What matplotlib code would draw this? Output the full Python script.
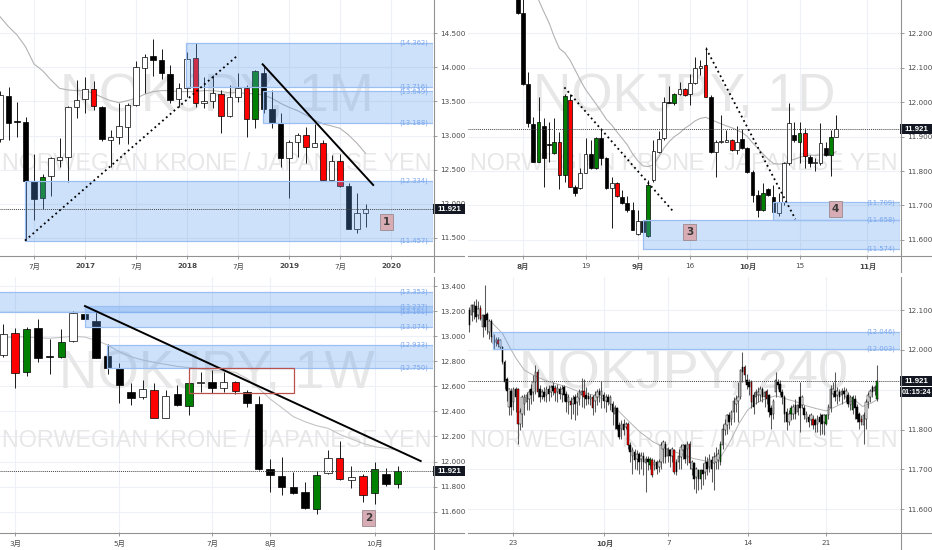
import matplotlib
matplotlib.use("Agg")
import matplotlib.pyplot as plt
from matplotlib.patches import Rectangle
from matplotlib.lines import Line2D
import matplotlib.transforms as mtransforms

plt.rcParams['font.family'] = ['DejaVu Sans', 'Noto Sans CJK JP']

LAST = 11.921
TIMER = "01:15:24"
SUBTITLE = "NORWEGIAN KRONE / JAPANESE YEN"

# ---------------- monthly (top-left) ----------------
M_X = list(range(-10, 34))
M_KIND = "wkkkkgwwww" "wrkwwwwwkk" "kwwrwwrwwr" "gkkkwwrwrw" "rkww"
M_OPEN = [12.944,13.585,13.213,13.199,12.333,12.078,12.406,12.641,12.680,13.414,
          13.531,13.678,13.424,12.934,12.983,13.130,13.448,13.986,14.167,14.109,
          13.903,13.531,13.693,14.133,13.473,13.512,13.610,13.287,13.571,13.703,
          13.238,13.923,13.385,13.189,12.675,12.910,13.008,12.827,12.895,12.347,
          12.631,12.259,11.623,11.868]
M_HIGH = [13.650,13.707,13.497,13.277,12.729,12.436,12.690,12.969,13.433,13.815,
          13.854,13.805,13.433,13.081,13.473,13.473,14.099,14.197,14.412,14.265,
          14.035,13.766,14.231,14.363,13.854,13.888,13.668,13.742,13.913,13.742,
          13.962,14.035,13.668,13.326,12.934,13.032,13.130,13.169,12.934,12.714,
          12.729,12.308,12.161,11.995]
M_LOW = [12.900,12.934,12.974,11.457,11.760,11.917,12.113,12.543,12.323,13.252,
         13.326,13.375,12.925,12.543,12.876,12.876,13.433,13.619,13.874,13.825,
         13.473,13.414,13.571,13.424,13.399,13.399,13.042,13.277,13.497,12.983,
         13.106,13.326,13.106,12.533,12.078,12.690,12.592,12.827,12.347,12.347,
         12.250,11.633,11.574,11.662]
M_CLOSE = [13.595,13.189,13.200,12.337,12.073,12.397,12.665,12.680,13.414,13.522,
           13.678,13.433,12.944,12.983,13.140,13.448,14.011,14.148,14.109,13.913,
           13.522,13.703,14.118,13.473,13.512,13.619,13.287,13.571,13.703,13.238,
           13.947,13.385,13.179,12.675,12.910,13.008,12.837,12.895,12.347,12.631,
           12.259,11.633,11.868,11.921]
M_MA = [14.745,14.598,14.476,14.304,14.050,13.952,13.815,13.693,13.668,13.659,
        13.659,13.619,13.561,13.512,13.482,13.512,13.546,13.605,13.644,13.659,
        13.659,13.644,13.644,13.644,13.659,13.659,13.644,13.629,13.629,13.619,
        13.610,13.595,13.546,13.473,13.414,13.365,13.301,13.228,13.169,13.140,
        13.106,13.008,12.886,12.739]
M_YTICKS = [11.5, 12.0, 12.5, 13.0, 13.5, 14.0, 14.5]
M_XTICKS = [-6, 0, 6, 12, 18, 24, 30, 36]
M_XLABELS = ["7月", "2017", "7月", "2018", "7月", "2019", "7月", "2020"]
M_ZONES = [(14.362, 13.716, 11.9), (13.649, 13.188, 20.9), (12.334, 11.457, -7.06)]
M_ZONE_LABELS = [14.362, 13.716, 13.649, 13.188, 12.334, 11.457]
M_DOT_X, M_DOT_Y = [-7.06, 17.8], [11.457, 14.158]
M_TREND_X, M_TREND_Y = [20.9, 33.9], [14.045, 12.274]
M_TAG = ("1", 35.5, 11.73)

# ---------------- daily (top-right) ----------------
D_X = list(range(-1, 61))
D_KIND = "kkkkgkkgrg" "rkwwkgkkwr" "kkkwkgwwwk" "gwrwwwrkww" "wrwkkkkgkk" "wwwkgrkwwk" "gw"
D_OPEN = [12.330,12.260,12.052,11.937,11.827,11.931,11.880,11.851,11.885,11.789,
          12.006,11.753,11.750,11.793,11.850,11.808,11.895,11.837,11.750,11.766,
          11.724,11.708,11.687,11.617,11.656,11.610,11.774,11.856,11.895,12.002,
          11.999,12.024,12.037,12.024,12.055,12.098,12.108,12.016,11.856,11.885,
          11.885,11.890,11.861,11.892,11.866,11.798,11.731,11.687,11.747,11.724,
          11.679,11.711,11.822,11.905,11.885,11.911,11.842,11.824,11.822,11.866,
          11.847,11.898]
D_HIGH = [12.360,12.300,12.089,11.958,12.014,11.953,11.943,11.953,11.914,12.024,
          12.024,11.760,11.808,11.895,11.890,11.898,11.924,11.842,11.784,11.769,
          11.745,11.726,11.711,11.687,11.658,11.774,11.890,11.917,12.016,12.047,
          12.028,12.060,12.040,12.082,12.130,12.124,12.161,12.021,11.890,11.963,
          11.919,11.892,11.931,11.921,11.871,11.803,11.745,11.766,11.750,11.760,
          11.735,11.825,11.997,11.943,11.943,11.924,11.847,11.837,11.940,11.885,
          11.919,11.963]
D_LOW = [12.255,12.050,11.929,11.827,11.827,11.755,11.827,11.850,11.747,11.769,
         11.755,11.726,11.747,11.793,11.805,11.805,11.818,11.747,11.634,11.724,
         11.704,11.682,11.629,11.614,11.574,11.608,11.769,11.851,11.890,11.997,
         11.992,12.021,12.018,11.992,12.053,12.079,12.014,11.853,11.784,11.882,
         11.885,11.859,11.850,11.863,11.795,11.711,11.666,11.685,11.726,11.679,
         11.670,11.700,11.818,11.885,11.822,11.808,11.813,11.801,11.818,11.844,
         11.786,11.898]
D_CLOSE = [12.260,12.052,11.941,11.827,11.943,11.837,11.876,11.885,11.789,12.018,
           11.755,11.735,11.793,11.850,11.808,11.895,11.837,11.750,11.766,11.726,
           11.708,11.687,11.629,11.656,11.624,11.760,11.859,11.892,12.002,11.999,
           12.024,12.037,12.021,12.057,12.098,12.105,12.016,11.856,11.885,11.887,
           11.890,11.861,11.885,11.866,11.798,11.731,11.687,11.737,11.731,11.682,
           11.711,11.822,11.939,11.890,11.911,11.844,11.824,11.826,11.882,11.847,
           11.898,11.921]
D_MA_X = list(range(3, 61))
D_MA = [12.297,12.263,12.231,12.190,12.156,12.144,12.123,12.094,12.064,12.037,
        12.016,11.995,11.973,11.950,11.934,11.914,11.895,11.876,11.850,11.830,
        11.815,11.813,11.818,11.840,11.866,11.885,11.900,11.910,11.924,11.934,
        11.946,11.953,11.956,11.950,11.943,11.937,11.931,11.926,11.919,11.912,
        11.900,11.882,11.866,11.850,11.834,11.822,11.820,11.822,11.830,11.834,
        11.840,11.844,11.846,11.846,11.846,11.848,11.850,11.856]
D_YTICKS = [11.6, 11.7, 11.8, 11.9, 12.0, 12.1, 12.2]
D_XTICKS = [0, 12, 22, 32, 43, 53, 66]
D_XLABELS = ["8月", "19", "9月", "16", "10月", "15", "11月"]
D_ZONES = [(11.658, 11.574, 23.07), (11.709, 11.658, 47.98)]
D_ZONE_LABELS = [11.709, 11.658, 11.574]
D_DOT1_X, D_DOT1_Y = [7.94, 29.0], [12.043, 11.679]
D_DOT2_X, D_DOT2_Y = [35.1, 52.2], [12.156, 11.660]
D_TAGS = [("3", 32.0, 11.622), ("4", 59.9, 11.690)]

# ---------------- weekly (bottom-left) ----------------
W_X = list(range(0, 35))
W_KIND = "wrgkkgwkkk" "kkwrwkgwkw" "rkkkkkkgwr" "wrgkg"
W_OPEN = [12.850,13.022,12.711,13.062,12.844,12.836,12.961,13.174,13.123,12.844,
          12.749,12.552,12.517,12.570,12.344,12.541,12.445,12.624,12.632,12.584,
          12.637,12.557,12.456,11.938,11.887,11.794,11.754,11.621,11.906,12.025,
          11.853,11.887,11.746,11.900,11.818]
W_HIGH = [13.094,13.068,13.076,13.137,12.977,13.057,13.201,13.235,13.190,12.935,
          12.783,12.624,12.650,12.624,12.570,12.610,12.637,12.717,12.730,12.717,
          12.642,12.570,12.525,12.020,12.039,11.919,11.839,11.924,12.092,12.164,
          11.967,11.898,11.993,11.946,11.967]
W_LOW = [12.836,12.589,12.685,12.791,12.695,12.823,12.956,13.129,12.823,12.695,
         12.464,12.451,12.499,12.344,12.344,12.446,12.371,12.552,12.544,12.552,
         12.536,12.437,11.932,11.760,11.733,11.743,11.621,11.579,11.898,11.853,
         11.791,11.674,11.658,11.807,11.786]
W_CLOSE = [13.014,12.703,13.057,12.828,12.836,12.956,13.182,13.134,12.828,12.749,
           12.610,12.504,12.576,12.344,12.525,12.451,12.624,12.637,12.584,12.632,
           12.562,12.464,11.940,11.892,11.799,11.746,11.627,11.892,12.025,11.861,
           11.879,11.733,11.938,11.818,11.921]
W_MA = [12.988,12.996,12.993,12.988,12.983,12.991,12.999,12.993,12.967,12.929,
        12.876,12.836,12.810,12.791,12.775,12.759,12.749,12.738,12.730,12.722,
        12.711,12.663,12.584,12.499,12.430,12.358,12.318,12.286,12.265,12.217,
        12.180,12.145,12.118,12.105,12.092]
W_YTICKS = [11.6, 11.8, 12.0, 12.2, 12.4, 12.6, 12.8, 13.0, 13.2, 13.4]
W_XTICKS = [1, 10, 18, 23, 32]
W_XLABELS = ["3月", "5月", "7月", "8月", "10月"]
W_ZONES = [(13.353, 13.191, -1.0), (13.237, 13.074, 7.04), (12.933, 12.750, 8.97)]
W_ZONE_LABELS = [13.353, 13.237, 13.191, 13.074, 12.933, 12.750]
W_TREND_X, W_TREND_Y = [7.04, 35.98], [13.240, 12.004]
W_BOX = (16.0, 25.06, 12.544, 12.743)
W_TAG = ("2", 31.47, 11.547)

# ---------------- 4 hour (bottom-right) ----------------
H4_X = list(range(0, 186))
H4_KIND = ("kwwkwrwkkw" "kkwrwkkkwk" "wkrwwwwwkw" "wrkwkwkwkr" "wkwkkwrwkw"
           "wwrkkwrwwk" "wkwkwkwkkw" "kwrkwkwkwk" "wkgrwkwwwk" "wkwrkwwwkw"
           "rwkwkgkwkw" "kwwwgwwwkw" "wwwwkrkkrk" "wwwkwrkkww" "kkkkkwgwkw"
           "kwkwkwrkwk" "kwgwwwkwkw" "kwkwgkkkrw" "wwwkwg")
H4_OPEN = [12.099,12.087,12.095,12.110,12.087,12.105,12.057,12.087,12.089,12.045,
           12.072,12.036,12.020,12.026,12.007,12.007,11.970,11.928,11.857,11.898,
           11.869,11.903,11.903,11.815,11.840,11.865,11.869,11.878,11.903,11.894,
           11.919,11.944,11.903,11.884,11.894,11.886,11.903,11.894,11.909,11.904,
           11.894,11.901,11.890,11.907,11.890,11.869,11.873,11.865,11.882,11.869,
           11.878,11.886,11.898,11.886,11.884,11.878,11.882,11.873,11.882,11.898,
           11.884,11.886,11.871,11.882,11.865,11.865,11.840,11.853,11.811,11.802,
           11.815,11.807,11.815,11.761,11.735,11.744,11.727,11.740,11.727,11.735,
           11.715,11.727,11.710,11.723,11.710,11.719,11.706,11.719,11.752,11.765,
           11.735,11.748,11.735,11.748,11.719,11.719,11.731,11.748,11.761,11.752,
           11.765,11.702,11.715,11.681,11.698,11.677,11.698,11.694,11.719,11.706,
           11.723,11.715,11.719,11.723,11.719,11.761,11.798,11.811,11.836,11.827,
           11.844,11.865,11.873,11.882,11.957,11.957,11.924,11.919,11.919,11.886,
           11.882,11.886,11.886,11.903,11.882,11.898,11.886,11.853,11.840,11.894,
           11.919,11.915,11.894,11.882,11.844,11.819,11.840,11.840,11.861,11.844,
           11.882,11.861,11.853,11.827,11.832,11.823,11.827,11.823,11.815,11.832,
           11.836,11.819,11.815,11.836,11.853,11.890,11.898,11.886,11.894,11.886,
           11.898,11.882,11.886,11.861,11.848,11.878,11.857,11.840,11.827,11.811,
           11.827,11.869,11.882,11.907,11.898,11.876]
H4_HIGH = [12.108,12.116,12.124,12.128,12.124,12.112,12.091,12.162,12.095,12.078,
           12.078,12.041,12.032,12.032,12.028,12.011,11.974,11.932,11.904,11.904,
           11.907,11.907,11.904,11.853,11.886,11.890,11.894,11.903,11.915,11.936,
           11.961,11.951,11.911,11.903,11.907,11.909,11.913,11.913,11.919,11.911,
           11.915,11.909,11.911,11.911,11.898,11.890,11.882,11.886,11.890,11.894,
           11.903,11.929,11.928,11.907,11.894,11.890,11.886,11.898,11.901,11.904,
           11.921,11.894,11.890,11.890,11.886,11.873,11.861,11.857,11.819,11.823,
           11.827,11.819,11.819,11.769,11.756,11.752,11.748,11.744,11.744,11.744,
           11.735,11.735,11.731,11.729,11.727,11.723,11.727,11.769,11.773,11.771,
           11.756,11.752,11.756,11.752,11.727,11.752,11.765,11.765,11.765,11.771,
           11.771,11.723,11.719,11.706,11.702,11.702,11.715,11.735,11.731,11.740,
           11.735,11.744,11.756,11.752,11.771,11.815,11.827,11.840,11.844,11.848,
           11.882,11.886,11.919,11.953,11.995,11.961,11.940,11.928,11.924,11.894,
           11.903,11.907,11.909,11.907,11.898,11.903,11.890,11.861,11.878,11.944,
           11.928,11.924,11.903,11.886,11.853,11.848,11.861,11.865,11.878,11.865,
           11.919,11.886,11.861,11.846,11.840,11.842,11.836,11.829,11.836,11.842,
           11.840,11.840,11.840,11.865,11.911,11.919,11.944,11.907,11.903,11.904,
           11.907,11.904,11.894,11.888,11.886,11.886,11.865,11.844,11.837,11.844,
           11.878,11.894,11.903,11.911,11.911,11.961]
H4_LOW = [12.045,12.072,12.078,12.070,12.078,12.074,12.032,12.049,12.041,12.028,
          12.021,12.003,12.011,12.007,12.003,11.965,11.903,11.873,11.836,11.836,
          11.848,11.844,11.765,11.798,11.807,11.836,11.848,11.848,11.865,11.871,
          11.890,11.882,11.869,11.878,11.871,11.869,11.873,11.882,11.886,11.873,
          11.869,11.878,11.869,11.873,11.844,11.840,11.827,11.840,11.823,11.836,
          11.861,11.857,11.853,11.861,11.865,11.861,11.836,11.844,11.861,11.869,
          11.854,11.853,11.844,11.861,11.848,11.811,11.802,11.798,11.777,11.777,
          11.786,11.802,11.752,11.719,11.689,11.702,11.698,11.689,11.702,11.685,
          11.644,11.698,11.702,11.681,11.698,11.689,11.694,11.702,11.715,11.715,
          11.719,11.706,11.719,11.689,11.685,11.702,11.702,11.727,11.715,11.710,
          11.702,11.685,11.652,11.640,11.648,11.652,11.660,11.677,11.685,11.694,
          11.669,11.648,11.702,11.702,11.712,11.752,11.786,11.790,11.802,11.811,
          11.819,11.844,11.819,11.878,11.919,11.919,11.903,11.886,11.853,11.840,
          11.865,11.869,11.873,11.869,11.857,11.865,11.832,11.802,11.827,11.882,
          11.903,11.886,11.865,11.819,11.798,11.811,11.823,11.827,11.827,11.836,
          11.794,11.853,11.827,11.819,11.807,11.811,11.802,11.794,11.794,11.786,
          11.790,11.786,11.811,11.827,11.844,11.882,11.873,11.865,11.873,11.865,
          11.878,11.869,11.857,11.848,11.840,11.827,11.819,11.802,11.811,11.765,
          11.802,11.853,11.869,11.882,11.886,11.873]
H4_CLOSE = [12.062,12.112,12.113,12.082,12.103,12.078,12.087,12.057,12.074,12.072,
            12.032,12.016,12.026,12.016,12.024,11.970,11.919,11.898,11.903,11.857,
            11.903,11.882,11.815,11.844,11.882,11.882,11.886,11.894,11.886,11.919,
            11.944,11.894,11.882,11.894,11.882,11.903,11.890,11.907,11.898,11.893,
            11.904,11.890,11.903,11.886,11.869,11.882,11.861,11.878,11.865,11.882,
            11.894,11.898,11.882,11.878,11.878,11.882,11.853,11.886,11.894,11.886,
            11.896,11.873,11.882,11.869,11.882,11.844,11.853,11.802,11.781,11.815,
            11.798,11.815,11.761,11.744,11.748,11.723,11.740,11.719,11.735,11.719,
            11.727,11.719,11.727,11.685,11.719,11.702,11.719,11.761,11.769,11.731,
            11.752,11.735,11.752,11.694,11.694,11.735,11.756,11.761,11.727,11.765,
            11.715,11.719,11.677,11.702,11.677,11.698,11.689,11.715,11.702,11.727,
            11.702,11.731,11.735,11.740,11.765,11.802,11.815,11.836,11.819,11.844,
            11.873,11.878,11.882,11.949,11.944,11.936,11.911,11.907,11.869,11.857,
            11.894,11.894,11.903,11.882,11.894,11.878,11.844,11.836,11.873,11.924,
            11.911,11.894,11.882,11.840,11.819,11.840,11.853,11.857,11.840,11.861,
            11.853,11.882,11.836,11.840,11.819,11.836,11.812,11.811,11.827,11.819,
            11.815,11.836,11.837,11.857,11.903,11.903,11.882,11.898,11.882,11.898,
            11.890,11.898,11.865,11.882,11.882,11.853,11.827,11.819,11.819,11.836,
            11.869,11.886,11.898,11.894,11.907,11.921]
H4_MA_X = [9.8,15.1,18.2,21.2,25.0,30.3,36.3,43.9,49.9,56.0,62.0,66.6,71.1,77.2,83.2,
           89.3,95.3,101.4,107.4,111.2,114.2,118.0,122.5,126.3,130.1,134.6,139.2,143.7,
           148.3,152.8,157.3,161.9,166.4,171.0,175.5,178.5,182.3,185.6]
H4_MA = [12.071,12.041,12.008,11.979,11.949,11.933,11.920,11.908,11.895,11.887,
         11.874,11.853,11.828,11.795,11.770,11.753,11.740,11.728,11.721,11.720,
         11.732,11.766,11.816,11.849,11.866,11.878,11.885,11.877,11.870,11.860,
         11.853,11.847,11.858,11.870,11.872,11.858,11.866,11.877]
H4_YTICKS = [11.6, 11.7, 11.8, 11.9, 12.0, 12.1]
H4_XTICKS = [19.7, 61.3, 90.3, 126.3, 161.9]
H4_XLABELS = ["23", "10月", "7", "14", "21"]
H4_ZONES = [(12.046, 12.003, 10.6)]
H4_ZONE_LABELS = [12.046, 12.003]

# ---------------- styling ----------------
W, H = 932, 550
GRID_C = '#edf1f7'
TICK_C = '#8c8c8c'
LABEL_C = '#4a4a4a'
AXIS_C = '#929292'
WM_C = '#e7e7e8'
MA_C = '#b3b3b3'
ZONE_FACE = (0.357, 0.612, 0.941, 0.30)
ZONE_EDGE = '#9cbff2'
ZONE_TXT = '#7aa7ee'
TAG_FACE = '#d8acb4'
TAG_EDGE = '#9a8a90'
FACE = {'w': 'white', 'k': 'black', 'r': '#ff0000', 'g': '#008000'}
WM_FONT = ['Liberation Sans Narrow', 'Liberation Sans', 'DejaVu Sans']
BOX_FONT = ['Liberation Sans', 'DejaVu Sans']

fig = plt.figure(figsize=(W / 100, H / 100), dpi=100)
fig.patch.set_facecolor('white')
wm_texts = []


def make_axes(box, xlim, ylim, yticks, xticks, xlabels, bold):
    x0, y0, x1, y1 = box
    ax = fig.add_axes([x0 / W, 1 - y1 / H, (x1 - x0) / W, (y1 - y0) / H])
    ax.set_facecolor('white')
    ax.set_xlim(*xlim)
    ax.set_ylim(*ylim)
    for s in ax.spines.values():
        s.set_visible(False)
    ax.yaxis.tick_right()
    ax.set_yticks(yticks)
    ax.set_yticklabels([f"{v:.3f}" for v in yticks])
    ax.set_xticks(xticks)
    ax.set_xticklabels(xlabels)
    ax.tick_params(axis='y', direction='out', length=3, width=0.6, color=TICK_C,
                   labelsize=5.2, labelcolor=LABEL_C, pad=2)
    ax.tick_params(axis='x', direction='out', length=3, width=0.6, color=TICK_C,
                   labelsize=5.2, labelcolor=LABEL_C, pad=3)
    for lab in ax.get_xticklabels():
        if lab.get_text() in bold:
            lab.set_fontweight('bold')
    ax.grid(True, color=GRID_C, lw=0.8)
    ax.set_axisbelow(True)
    ax._box_px = (x1 - x0, y1 - y0)
    return ax


def draw_candles(ax, xs, o, h, l, c, kinds, width, wick_c='#1a1a1a', wick_lw=0.7, edge_lw=0.5):
    y0, y1 = ax.get_ylim()
    min_h = (y1 - y0) / 255.0 * 0.8
    xs_, lo_, hi_ = [], [], []
    for x, oo, hh, ll, cc, k in zip(xs, o, h, l, c, kinds):
        xs_.append(x); lo_.append(ll); hi_.append(hh)
        b0, b1 = min(oo, cc), max(oo, cc)
        if b1 - b0 < min_h:
            b1 = b0 + min_h
        ax.add_patch(Rectangle((x - width / 2, b0), width, b1 - b0, facecolor=FACE[k],
                               edgecolor='black', lw=edge_lw, zorder=4))
    ax.vlines(xs_, lo_, hi_, colors=wick_c, lw=wick_lw, zorder=3)


def draw_zones(ax, zones, labels):
    xmax = ax.get_xlim()[1]
    wpx = ax._box_px[0]
    for top, bot, x0 in zones:
        ax.add_patch(Rectangle((x0, bot), xmax - x0, top - bot, facecolor=ZONE_FACE,
                               edgecolor=ZONE_EDGE, lw=0.9, zorder=6))
    tr = mtransforms.blended_transform_factory(ax.transAxes, ax.transData)
    for v in labels:
        ax.text(1 - 5.0 / wpx, v, f"({v:.3f})", transform=tr, ha='right', va='center',
                fontsize=4.9, color=ZONE_TXT, zorder=7)


def watermark(ax, big, big_w, sub_w):
    t1 = ax.text(0.5, 0.62, big, transform=ax.transAxes, ha='center', va='center',
                 fontsize=40, color=WM_C, family=WM_FONT, zorder=1)
    t2 = ax.text(0.5, 0.357, SUBTITLE, transform=ax.transAxes, ha='center', va='center',
                 fontsize=20, color=WM_C, family=WM_FONT, zorder=1)
    wm_texts.append((t1, big_w))
    wm_texts.append((t2, sub_w))


def price_label(ax, timer=False):
    ax.axhline(LAST, color='#444444', lw=0.7, ls=(0, (1, 1)), zorder=8)
    wpx, hpx = ax._box_px
    y0, y1 = ax.get_ylim()
    u = (y1 - y0) / hpx           # data units per pixel
    bw = 32.0 / wpx               # box width in axes fraction
    tr = mtransforms.blended_transform_factory(ax.transAxes, ax.transData)
    boxes = [(f"{LAST:.3f}", LAST - 5 * u, LAST + 5 * u, 5.7)]
    if timer:
        boxes.append((TIMER, LAST - 16 * u, LAST - 5.5 * u, 5.2))
    for txt, b0, b1, fs in boxes:
        ax.add_patch(Rectangle((1.0, b0), bw, b1 - b0, transform=tr, facecolor='#131722',
                               edgecolor='none', clip_on=False, zorder=30))
        ax.text(1.0 + bw / 2, (b0 + b1) / 2, txt, transform=tr, ha='center', va='center',
                fontsize=fs, fontweight='bold', color='white', family=BOX_FONT,
                clip_on=False, zorder=31)


def tag(ax, text, x, y):
    ax.text(x, y, text, ha='center', va='center', fontsize=7.5, fontweight='bold',
            color='#3a3a3a', zorder=12,
            bbox=dict(boxstyle='square,pad=0.28', fc=TAG_FACE, ec=TAG_EDGE, lw=0.6))


DOT = (0, (1, 1.8))

# ---- top-left monthly ----
ax1 = make_axes((0, 0, 433, 255), (-10, 40.94), (11.246, 14.989), M_YTICKS, M_XTICKS,
                M_XLABELS, {"2017", "2018", "2019", "2020"})
watermark(ax1, "NOKJPY, 1M", 313, 430)
ax1.plot(M_X, M_MA, color=MA_C, lw=0.8, zorder=2)
draw_candles(ax1, M_X, M_OPEN, M_HIGH, M_LOW, M_CLOSE, M_KIND, 0.66)
draw_zones(ax1, M_ZONES, M_ZONE_LABELS)
ax1.plot(M_DOT_X, M_DOT_Y, color='black', lw=1.3, ls=DOT, zorder=9)
ax1.plot(M_TREND_X, M_TREND_Y, color='black', lw=1.4, zorder=9)
price_label(ax1)
tag(ax1, *M_TAG)

# ---- top-right daily ----
ax2 = make_axes((468, 0, 900, 255), (-10.52, 72.24), (11.556, 12.297), D_YTICKS, D_XTICKS,
                D_XLABELS, {"8月", "9月", "10月", "11月"})
watermark(ax2, "NOKJPY, 1D", 302, 428)
ax2.plot(D_MA_X, D_MA, color=MA_C, lw=0.8, zorder=2)
draw_candles(ax2, D_X, D_OPEN, D_HIGH, D_LOW, D_CLOSE, D_KIND, 0.72)
draw_zones(ax2, D_ZONES, D_ZONE_LABELS)
ax2.plot(D_DOT1_X, D_DOT1_Y, color='black', lw=1.3, ls=DOT, zorder=9)
ax2.plot(D_DOT2_X, D_DOT2_Y, color='black', lw=1.3, ls=DOT, zorder=9)
price_label(ax2)
for t in D_TAGS:
    tag(ax2, *t)

# ---- bottom-left weekly ----
ax3 = make_axes((0, 277, 433, 532), (-0.287, 37.04), (11.438, 13.472), W_YTICKS, W_XTICKS,
                W_XLABELS, set())
watermark(ax3, "NOKJPY, 1W", 315, 430)
ax3.plot(W_X, W_MA, color='#c4c4c4', lw=0.8, zorder=2)
draw_candles(ax3, W_X, W_OPEN, W_HIGH, W_LOW, W_CLOSE, W_KIND, 0.63)
draw_zones(ax3, W_ZONES, W_ZONE_LABELS)
ax3.plot(W_TREND_X, W_TREND_Y, color='black', lw=1.4, zorder=9)
bx0, bx1, by0, by1 = W_BOX
ax3.add_patch(Rectangle((bx0, by0), bx1 - bx0, by1 - by0, fill=False, ec='#b8524f',
                        lw=0.9, zorder=9))
price_label(ax3)
tag(ax3, *W_TAG)

# ---- bottom-right 4h ----
ax4 = make_axes((468, 277, 900, 532), (-0.6, 195.5), (11.543, 12.183), H4_YTICKS, H4_XTICKS,
                H4_XLABELS, {"10月"})
watermark(ax4, "NOKJPY, 240", 328, 428)
ax4.plot(H4_MA_X, H4_MA, color=MA_C, lw=0.7, zorder=2)
draw_candles(ax4, H4_X, H4_OPEN, H4_HIGH, H4_LOW, H4_CLOSE, H4_KIND, 0.7,
             wick_c='#5a5a5a', wick_lw=0.75, edge_lw=0.35)
draw_zones(ax4, H4_ZONES, H4_ZONE_LABELS)
price_label(ax4, timer=True)

# ---- pane borders (pixel coordinates from top-left) ----
def fline(x0, y0, x1, y1):
    fig.add_artist(Line2D([x0 / W, x1 / W], [1 - y0 / H, 1 - y1 / H], color=AXIS_C,
                          lw=0.8, transform=fig.transFigure, zorder=40))

fline(0, 255.5, 464, 255.5)
fline(468, 255.5, 932, 255.5)
fline(0, 532.5, 464, 532.5)
fline(468, 532.5, 932, 532.5)
fline(433.5, 0, 433.5, 272)
fline(900.5, 0, 900.5, 272)
fline(433.5, 277, 433.5, 550)
fline(900.5, 277, 900.5, 550)

# ---- fit watermark widths ----
renderer = fig.canvas.get_renderer()
for t, target in wm_texts:
    bb = t.get_window_extent(renderer=renderer)
    if bb.width > 0:
        t.set_fontsize(t.get_fontsize() * target / bb.width)

fig.savefig("out.png", dpi=100, facecolor='white')
